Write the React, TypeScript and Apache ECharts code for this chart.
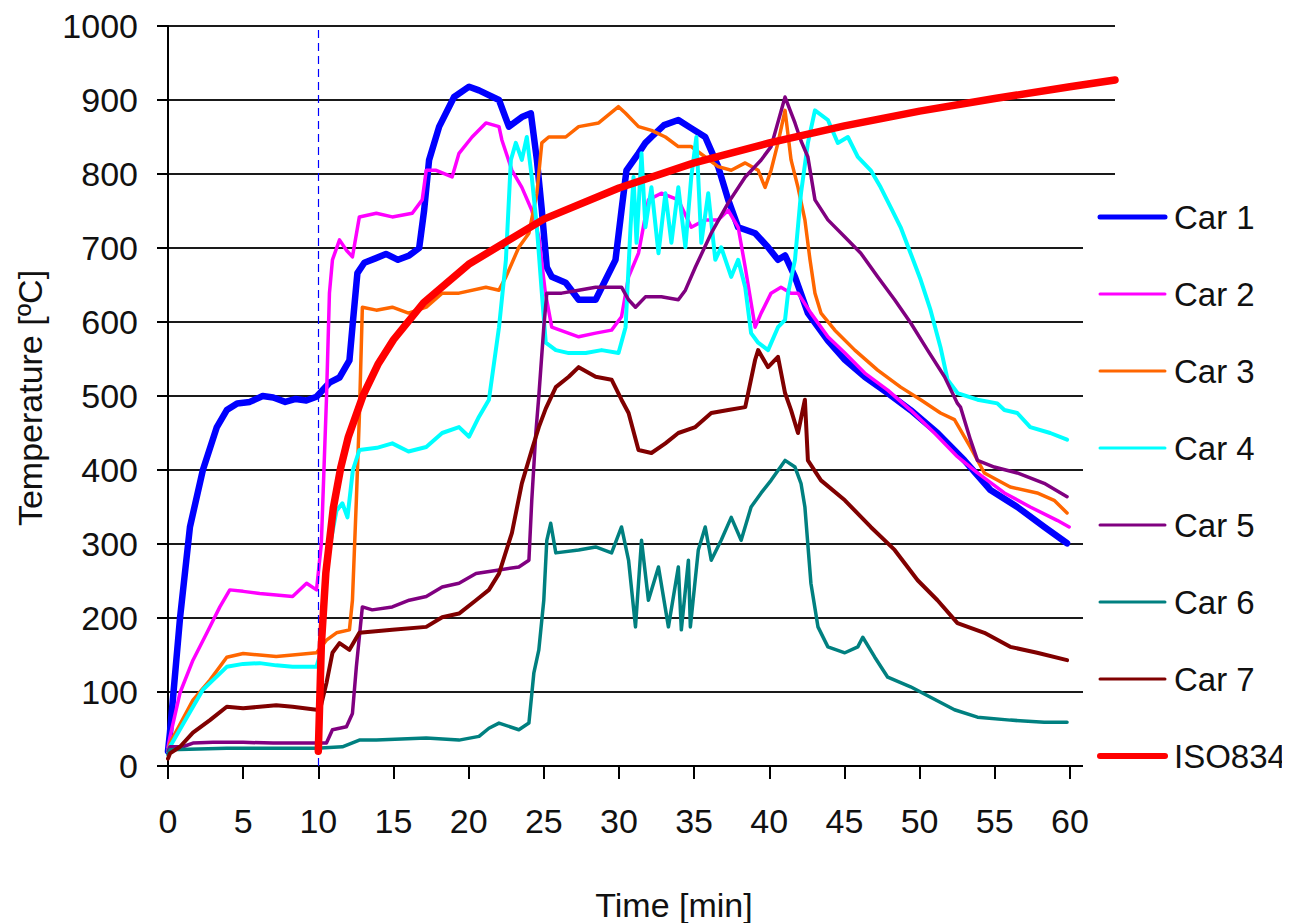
import React, { useEffect, useRef } from "react";
import * as echarts from "echarts";

const seriesNames = ["Car 1", "Car 2", "Car 3", "Car 4", "Car 5", "Car 6", "Car 7", "ISO834"];
const seriesColors = ["#0000ff", "#ff00ff", "#ff6600", "#00ffff", "#800080", "#008080", "#800000", "#ff0000"];
const seriesWidths = [6.5, 3.5, 3.5, 4, 3.5, 3.5, 4, 7.5];
const legendWidths = [5, 3, 3, 3, 3, 3, 3, 6];

const xTickValues = [0, 5, 10, 15, 20, 25, 30, 35, 40, 45, 50, 55, 60];
const yTickValues = [0, 100, 200, 300, 400, 500, 600, 700, 800, 900, 1000];

const car1: number[][] = [
  [0, 20], [0.13, 45], [0.8, 200], [1.46, 323], [2.32, 400], [3.25, 458], [3.91, 481], [4.6, 490],
  [5.44, 492], [6.3, 500], [7, 498], [7.8, 492], [8.5, 496], [9.2, 494], [9.88, 499], [10.74, 518],
  [11.41, 525], [12.07, 548], [12.3, 600], [12.6, 666], [13.06, 680], [13.8, 686], [14.5, 692],
  [15.3, 684], [16.05, 690], [16.71, 700], [17.04, 751], [17.37, 819], [18.04, 864], [19.03, 904],
  [20.03, 918], [20.69, 913], [22.02, 900], [22.68, 864], [23.54, 877], [24.14, 882], [24.54, 819],
  [24.87, 751], [25.2, 674], [25.53, 661], [26.46, 653], [27.32, 630], [28.45, 630], [29.11, 657],
  [29.77, 684], [30.17, 751], [30.5, 805], [31.3, 828], [31.76, 842], [32.16, 850], [33.0, 866],
  [33.95, 873], [34.8, 862], [35.74, 850], [36.6, 810], [37.27, 765], [37.93, 728], [38.5, 724],
  [39.06, 720], [39.92, 701], [40.58, 684], [41.05, 690], [41.71, 661], [42.57, 612], [43.9, 575],
  [45.03, 549], [46.35, 526], [47.88, 504], [49.4, 481], [51.19, 450], [52.98, 413], [54.71, 373],
  [56.5, 350], [58.29, 323], [59.81, 301]
];

const car2: number[][] = [
  [0, 25], [0.13, 39], [0.8, 99], [1.66, 143], [2.59, 180], [3.45, 215], [4.11, 238], [5.0, 236],
  [6.1, 233], [7.2, 231], [8.29, 229], [9.22, 247], [9.88, 238], [10.2, 300], [10.54, 495],
  [10.74, 639], [10.94, 684], [11.41, 711], [11.87, 697], [12.27, 688], [12.73, 742], [13.86, 747],
  [14.92, 742], [16.25, 747], [16.91, 765], [17.18, 805], [17.84, 805], [18.9, 796], [19.36, 828],
  [20.23, 850], [21.15, 869], [22.02, 864], [22.21, 846], [22.88, 805], [23.54, 782], [24.2, 751],
  [24.67, 715], [25.1, 640], [25.53, 593], [27.32, 580], [28.45, 585], [29.51, 589], [30.17, 607],
  [30.64, 661], [31.3, 693], [31.96, 765], [32.82, 774], [33.95, 765], [34.81, 728], [35.74, 738],
  [36.6, 738], [37.27, 751], [37.93, 728], [38.4, 674], [39.06, 593], [39.46, 612], [40.12, 639],
  [40.78, 647], [41.45, 639], [41.91, 639], [42.77, 612], [43.9, 580], [45.03, 558], [46.35, 531],
  [47.88, 508], [49.4, 481], [50.99, 450], [52.52, 418], [53.85, 396], [55.64, 369], [57.36, 350],
  [59.15, 332], [59.95, 323]
];

const car3: number[][] = [
  [0, 20], [0.13, 31], [1.66, 89], [2.79, 116], [3.91, 147], [5.0, 152], [6.1, 150], [7.2, 148],
  [8.29, 150], [9.88, 153], [10.54, 170], [11.21, 180], [12.07, 184], [12.27, 224], [12.53, 359],
  [12.73, 472], [12.93, 620], [13.86, 616], [14.92, 620], [16.0, 612], [17.18, 620], [18.24, 639],
  [19.36, 639], [21.15, 647], [22.02, 643], [22.48, 661], [23.34, 701], [24.01, 720], [24.54, 774],
  [24.87, 842], [25.33, 850], [26.46, 850], [27.32, 864], [28.65, 869], [29.97, 891], [30.44, 882],
  [31.3, 864], [32.16, 859], [33.09, 850], [33.95, 837], [34.81, 837], [35.74, 823], [36.6, 810],
  [37.47, 805], [38.4, 815], [39.26, 805], [39.72, 782], [40.12, 805], [40.58, 842], [41.05, 886],
  [41.45, 819], [41.91, 782], [42.37, 738], [42.71, 684], [43.04, 639], [43.44, 612], [44.36, 589],
  [45.69, 562], [47.21, 535], [48.74, 512], [50.07, 495], [51.39, 477], [52.32, 468], [53.38, 431],
  [54.31, 396], [56.03, 377], [57.82, 369], [58.95, 359], [59.81, 342]
];

const car4: number[][] = [
  [0, 20], [0.13, 26], [1.26, 66], [2.32, 103], [3.91, 134], [5.0, 138], [6.1, 139], [7.2, 136],
  [8.29, 134], [9.88, 134], [10.1, 150], [10.6, 280], [11.21, 345], [11.6, 355], [11.94, 336],
  [12.3, 400], [12.73, 427], [13.9, 430], [14.92, 436], [16.0, 425], [17.18, 431], [18.24, 450],
  [19.36, 458], [20.03, 445], [20.69, 472], [21.35, 495], [22.02, 593], [22.48, 684], [22.81, 819],
  [23.14, 842], [23.54, 819], [23.87, 850], [24.2, 796], [24.54, 728], [24.87, 639], [25.13, 572],
  [25.8, 562], [26.66, 558], [27.79, 558], [28.85, 562], [29.97, 558], [30.44, 593], [30.77, 728],
  [30.97, 796], [31.17, 707], [31.5, 828], [31.76, 728], [32.16, 782], [32.63, 693], [33.09, 774],
  [33.49, 707], [33.95, 782], [34.42, 701], [34.81, 796], [35.15, 850], [35.48, 707], [35.94, 774],
  [36.41, 684], [36.8, 701], [37.47, 661], [37.93, 684], [38.4, 647], [38.79, 585], [39.26, 572],
  [39.92, 562], [40.58, 593], [41.05, 603], [41.25, 639], [41.71, 684], [42.11, 774], [42.57, 842],
  [43.04, 886], [43.9, 873], [44.56, 842], [45.23, 850], [45.89, 823], [46.75, 805], [47.41, 782],
  [48.08, 755], [48.74, 728], [49.4, 693], [50.07, 657], [50.73, 616], [51.39, 566], [51.86, 522],
  [52.52, 504], [53.85, 495], [55.17, 490], [55.64, 481], [56.5, 477], [57.36, 458], [58.69, 450],
  [59.81, 441]
];

const car5: number[][] = [
  [0, 20], [0.13, 26], [0.99, 26], [1.66, 31], [3.0, 32], [5.0, 32], [7.0, 31], [9.88, 31],
  [10.54, 31], [10.94, 49], [11.87, 53], [12.27, 71], [12.53, 134], [12.93, 215], [13.59, 211],
  [14.92, 215], [16.05, 224], [17.18, 229], [18.24, 242], [19.36, 247], [20.49, 260], [22.02, 265],
  [23.34, 269], [24.01, 278], [24.2, 359], [24.47, 450], [24.67, 500], [25.0, 593], [25.2, 639],
  [26.19, 639], [27.32, 643], [28.45, 647], [29.51, 647], [30.17, 647], [30.64, 630], [31.1, 620],
  [31.76, 634], [32.82, 634], [33.95, 630], [34.42, 643], [35.08, 674], [36.14, 720], [37.27, 761],
  [38.4, 796], [39.46, 819], [40.12, 837], [41.05, 904], [41.71, 869], [42.11, 845], [42.57, 823],
  [43.04, 765], [43.9, 738], [45.03, 715], [46.09, 693], [47.21, 661], [48.34, 630], [49.4, 599],
  [50.53, 562], [51.66, 526], [52.52, 490], [52.72, 485], [53.38, 441], [53.85, 413], [54.97, 404],
  [56.5, 396], [58.29, 382], [59.81, 364]
];

const car6: number[][] = [
  [0, 15], [0.13, 22], [3.91, 24], [7.0, 24], [9.88, 24], [11.6, 26], [12.73, 35], [13.86, 35],
  [17.18, 38], [19.36, 35], [20.69, 40], [21.35, 51], [22.02, 58], [23.34, 49], [24.01, 58],
  [24.34, 126], [24.67, 157], [25.0, 224], [25.2, 305], [25.46, 328], [25.8, 288], [27.32, 292],
  [28.45, 296], [29.51, 288], [30.17, 323], [30.64, 278], [31.1, 188], [31.5, 305], [31.96, 224],
  [32.63, 269], [33.29, 188], [33.95, 269], [34.15, 184], [34.62, 278], [34.75, 188], [35.28, 292],
  [35.74, 323], [36.14, 278], [36.8, 305], [37.47, 336], [38.13, 305], [38.79, 350], [39.46, 369],
  [40.12, 386], [41.05, 413], [41.71, 404], [42.11, 382], [42.37, 350], [42.77, 247], [43.24, 188],
  [43.9, 161], [45.03, 153], [45.89, 161], [46.22, 174], [47.02, 147], [47.88, 120], [49.4, 107],
  [50.73, 93], [52.32, 76], [53.85, 66], [56.03, 62], [58.29, 59], [59.81, 59]
];

const car7: number[][] = [
  [0, 10], [0.13, 17], [0.8, 26], [1.66, 45], [2.79, 62], [3.91, 80], [5.0, 78], [6.1, 80],
  [7.2, 82], [8.29, 80], [9.88, 76], [10.1, 75], [10.54, 112], [10.94, 153], [11.41, 166],
  [12.07, 157], [12.73, 180], [14.92, 184], [17.18, 188], [18.24, 201], [19.36, 206], [20.49, 224],
  [21.35, 238], [22.02, 260], [22.88, 315], [23.54, 382], [24.2, 427], [24.67, 458], [25.13, 483],
  [25.8, 512], [26.66, 526], [27.32, 539], [28.45, 526], [29.51, 522], [30.17, 495], [30.64, 477],
  [31.3, 427], [32.16, 423], [33.09, 436], [33.95, 450], [35.08, 458], [36.14, 477], [37.27, 481],
  [38.4, 485], [39.06, 549], [39.26, 562], [39.92, 539], [40.58, 553], [41.05, 504], [41.45, 481],
  [41.91, 450], [42.37, 495], [42.57, 413], [43.44, 386], [45.03, 359], [46.75, 323], [48.34, 292],
  [49.87, 251], [51.19, 224], [52.52, 193], [54.31, 180], [56.03, 161], [57.82, 153], [59.81, 143]
];

const iso834: number[][] = [
  [10, 20], [10.2, 163], [10.5, 261], [11, 349], [11.5, 404], [12, 445], [13, 502], [14, 544],
  [15, 576], [17, 626], [20, 678], [25, 739], [30, 781], [35, 815], [40, 842], [45, 865],
  [50, 885], [55, 902], [60, 918], [63, 927]
];

const allData = [car1, car2, car3, car4, car5, car6, car7, iso834];

const FONT = "'Liberation Sans', Arial, Helvetica, sans-serif";

export default function App() {
  const ref = useRef<HTMLDivElement>(null);
  useEffect(() => {
    if (!ref.current) return;
    const chart = echarts.init(ref.current, undefined, { renderer: "svg" });
    const series: any[] = seriesNames.map((name, i) => ({
      name,
      type: "line",
      data: allData[i],
      symbol: "none",
      showSymbol: false,
      smooth: false,
      z: i === 7 ? 5 : 2,
      lineStyle: { color: seriesColors[i], width: seriesWidths[i], cap: "round", join: "round" },
      itemStyle: { color: seriesColors[i] },
      emphasis: { disabled: true },
    }));
    series[0].markLine = {
      silent: true,
      symbol: "none",
      label: { show: false },
      lineStyle: { color: "#0000ff", width: 1.2, type: [8, 5] },
      data: [{ xAxis: 10 }],
    };
    chart.setOption({
      animation: false,
      backgroundColor: "#ffffff",
      textStyle: { fontFamily: FONT },
      grid: { left: 168, right: 175, top: 26, bottom: 157, containLabel: false },
      xAxis: {
        type: "value",
        min: 0,
        max: 63,
        interval: 5,
        axisLine: { show: true, onZero: false, lineStyle: { color: "#000", width: 2 } },
        axisTick: { show: true, length: 13, lineStyle: { color: "#000", width: 2 } },
        axisLabel: {
          fontSize: 34,
          color: "#111",
          fontFamily: FONT,
          margin: 38,
          showMaxLabel: false,
          formatter: (v: number) => (xTickValues.includes(v) ? String(v) : ""),
        },
        splitLine: { show: false },
      },
      yAxis: {
        type: "value",
        min: 0,
        max: 1000,
        interval: 100,
        axisLine: { show: true, lineStyle: { color: "#000", width: 2 } },
        axisTick: { show: true, length: 11, lineStyle: { color: "#000", width: 2 } },
        axisLabel: {
          fontSize: 34,
          color: "#111",
          fontFamily: FONT,
          margin: 30,
          formatter: (v: number) => (yTickValues.includes(v) ? String(v) : ""),
        },
        splitLine: { show: true, lineStyle: { color: "#1a1a1a", width: 2 } },
      },
      legend: {
        orient: "vertical",
        left: 1083,
        top: 185,
        padding: [12, 20, 12, 14],
        backgroundColor: "#ffffff",
        itemWidth: 65,
        itemHeight: 14,
        itemGap: 37,
        z: 10,
        selectedMode: false,
        itemStyle: { opacity: 0 },
        textStyle: {
          fontSize: 33,
          color: "#111",
          fontFamily: FONT,
          lineHeight: 40,
          padding: [0, 0, 0, 4],
        },
        data: seriesNames.map((name, i) => ({
          name,
          itemStyle: { opacity: 0 },
          lineStyle: { width: legendWidths[i], color: seriesColors[i], cap: "round" },
        })),
      },
      graphic: [
        {
          type: "text",
          x: 30,
          y: 398,
          rotation: Math.PI / 2,
          style: {
            text: "Temperature [ºC]",
            font: `34px ${FONT}`,
            fill: "#111",
            textAlign: "center",
            textVerticalAlign: "middle",
          },
        },
        {
          type: "text",
          x: 674,
          y: 905,
          style: {
            text: "Time [min]",
            font: `34px ${FONT}`,
            fill: "#111",
            textAlign: "center",
            textVerticalAlign: "middle",
          },
        },
      ],
      series,
    });
    return () => chart.dispose();
  }, []);
  return <div ref={ref} style={{ width: 1290, height: 923, marginTop: -8, marginLeft: -8 }} />;
}
